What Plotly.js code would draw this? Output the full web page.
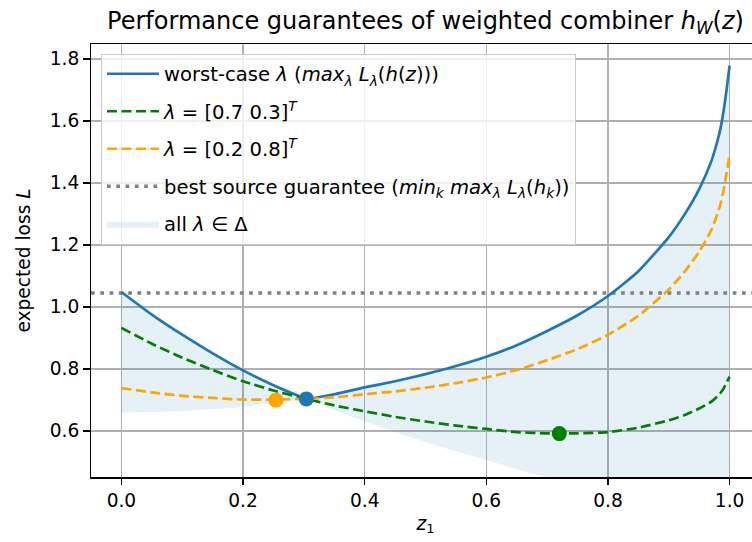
<!DOCTYPE html>
<html>
<head>
<meta charset="utf-8">
<script src="https://cdn.plot.ly/plotly-3.0.1.min.js"></script>
<style>
html, body { margin: 0; padding: 0; overflow: hidden; background: #ffffff; }
#chart { width: 772px; height: 542px; }
</style>
</head>
<body>
<div id="chart"></div>
<script>
// ---- data ----
const z1 = [0, 0.05, 0.1, 0.15, 0.2, 0.25, 0.3, 0.304, 0.35, 0.4, 0.45, 0.5, 0.55, 0.6, 0.65, 0.7, 0.75, 0.8, 0.85, 0.9, 0.925, 0.95, 0.97, 0.98, 0.985, 0.99, 0.995, 1.0];
const worstCase = [1.048, 0.975, 0.910, 0.850, 0.795, 0.747, 0.706, 0.703, 0.718, 0.740, 0.760, 0.783, 0.809, 0.839, 0.876, 0.922, 0.973, 1.035, 1.115, 1.225, 1.295, 1.380, 1.470, 1.535, 1.575, 1.630, 1.700, 1.778];
const bestCase = [0.660, 0.661, 0.664, 0.670, 0.678, 0.689, 0.702, 0.703, 0.667, 0.630, 0.596, 0.564, 0.534, 0.506, 0.476, 0.450, 0.428, 0.408, 0.393, 0.380, 0.374, 0.368, 0.362, 0.358, 0.356, 0.353, 0.350, 0.345];
const lambda73 = [0.932, 0.881, 0.836, 0.796, 0.760, 0.730, 0.705, 0.703, 0.682, 0.663, 0.645, 0.630, 0.617, 0.606, 0.596, 0.592, 0.592, 0.596, 0.610, 0.634, 0.650, 0.672, 0.694, 0.711, 0.722, 0.736, 0.755, 0.775];
const lambda28 = [0.738, 0.724, 0.713, 0.706, 0.701, 0.701, 0.703, 0.703, 0.708, 0.718, 0.727, 0.739, 0.754, 0.772, 0.796, 0.828, 0.864, 0.910, 0.971, 1.056, 1.111, 1.178, 1.248, 1.300, 1.331, 1.375, 1.430, 1.491];
const bestSource = 1.045;
const minWorst = {z: 0.304, L: 0.703};
const min73 = {z: 0.72, L: 0.591};
const min28 = {z: 0.254, L: 0.699};
const xTicks = [0, 0.2, 0.4, 0.6, 0.8, 1.0];
const xTickText = ['0.0', '0.2', '0.4', '0.6', '0.8', '1.0'];
const yTicks = [0.6, 0.8, 1.0, 1.2, 1.4, 1.6, 1.8];
const yTickText = ['0.6', '0.8', '1.0', '1.2', '1.4', '1.6', '1.8'];

const xRange = [-0.05, 1.05];
const yRange = [0.451, 1.848];

const BLUE = '#1f77b4', GREEN = '#008000', ORANGE = '#ffa500', GRAY = '#808080';
const FONT = 'DejaVu Sans, sans-serif';
const FS = 18.6;

const traces = [
  { x: z1, y: bestCase, mode: 'lines', line: {width: 0, color: BLUE, shape: 'spline', smoothing: 0.6}, showlegend: false, hoverinfo: 'skip', legendgroup: 'g0' },
  { x: z1, y: worstCase, mode: 'lines', fill: 'tonexty', fillcolor: 'rgba(31,119,180,0.11)',
    line: {width: 0, color: 'rgba(31,119,180,0.11)', shape: 'spline', smoothing: 0.6},
    name: 'all <i>λ</i> ∈ Δ', legendrank: 5, legendgroup: 'g5' },
  { x: xRange, y: [bestSource, bestSource], mode: 'lines', line: {color: GRAY, width: 3.5, dash: '3.7px,5.6px'},
    name: 'best source guarantee (<i>min<sub>k</sub> max<sub>λ</sub> L<sub>λ</sub></i>(<i>h<sub>k</sub></i>))', legendrank: 4, legendgroup: 'g4' },
  { x: z1, y: worstCase, mode: 'lines', line: {color: BLUE, width: 2.7, shape: 'spline', smoothing: 0.6},
    name: 'worst-case <i>λ</i> (<i>max<sub>λ</sub> L<sub>λ</sub></i>(<i>h</i>(<i>z</i>)))', legendrank: 1, legendgroup: 'g1' },
  { x: z1, y: lambda73, mode: 'lines', line: {color: GREEN, width: 2.7, dash: '10px,4.5px', shape: 'spline', smoothing: 0.6},
    name: '<i>λ</i> = [0.7 0.3]<sup><i>T</i></sup>', legendrank: 2, legendgroup: 'g2' },
  { x: z1, y: lambda28, mode: 'lines', line: {color: ORANGE, width: 2.7, dash: '10px,4.5px', shape: 'spline', smoothing: 0.6},
    name: '<i>λ</i> = [0.2 0.8]<sup><i>T</i></sup>', legendrank: 3, legendgroup: 'g3' },
  { x: [min28.z], y: [min28.L], mode: 'markers', marker: {color: ORANGE, size: 15}, showlegend: false },
  { x: [minWorst.z], y: [minWorst.L], mode: 'markers', marker: {color: BLUE, size: 15}, showlegend: false },
  { x: [min73.z], y: [min73.L], mode: 'markers', marker: {color: GREEN, size: 15}, showlegend: false }
];

const axisCommon = {
  showline: true, mirror: true, linecolor: '#000000', linewidth: 1.5,
  ticks: 'outside', ticklen: 6.5, tickwidth: 1.5, tickcolor: '#000000',
  showgrid: true, gridcolor: '#b0b0b0', gridwidth: 1.5, zeroline: false,
  tickfont: {family: FONT, size: FS, color: '#000000'}
};

const layout = {
  width: 772, height: 542,
  margin: {l: 91, r: 10, t: 44, b: 65},
  paper_bgcolor: '#ffffff', plot_bgcolor: '#ffffff',
  font: {family: FONT, size: FS, color: '#000000'},
  title: {text: 'Performance guarantees of weighted combiner <i>h<sub>W</sub></i>(<i>z</i>)',
          font: {family: FONT, size: 24, color: '#000000'},
          x: 0.5, xref: 'paper', xanchor: 'center', y: 0.962, yref: 'container', yanchor: 'middle'},
  xaxis: Object.assign({}, axisCommon, {
    range: xRange, tickvals: xTicks, ticktext: xTickText, automargin: true,
    title: {text: '<i>z</i><sub>1</sub>', font: {family: FONT, size: FS, color: '#000000'}, standoff: 6}
  }),
  yaxis: Object.assign({}, axisCommon, {
    range: yRange, tickvals: yTicks, ticktext: yTickText, automargin: true,
    title: {text: 'expected loss <i>L</i>', font: {family: FONT, size: FS, color: '#000000'}, standoff: 14}
  }),
  showlegend: true,
  legend: {
    x: 0.0149, y: 0.978, xanchor: 'left', yanchor: 'top',
    bgcolor: 'rgba(255,255,255,0.8)', bordercolor: '#cccccc', borderwidth: 1,
    font: {family: FONT, size: 19.6, color: '#000000'},
    itemwidth: 52, tracegroupgap: 9, traceorder: 'grouped'
  }
};

Plotly.newPlot('chart', traces, layout, {staticPlot: true, displayModeBar: false});
</script>
</body>
</html>
